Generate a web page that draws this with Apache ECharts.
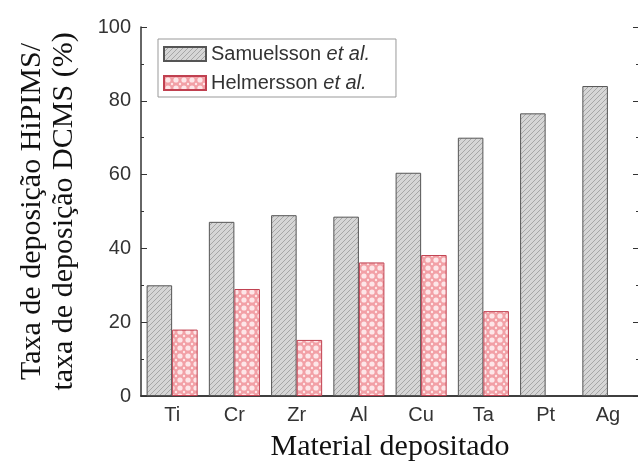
<!DOCTYPE html>
<html>
<head>
<meta charset="utf-8">
<script src="https://cdn.jsdelivr.net/npm/echarts@6/dist/echarts.min.js"></script>
<style>html,body{margin:0;padding:0;background:#fff;}#c{width:638px;height:461px;}</style>
</head>
<body>
<div id="c"></div>
<script>
var categories = ['Ti', 'Cr', 'Zr', 'Al', 'Cu', 'Ta', 'Pt', 'Ag'];
var samuelsson = [30, 47.2, 49, 48.6, 60.5, 70, 76.6, 84];
var helmersson = [18, 29, 15.2, 36.2, 38.2, 23, null, null];
var yTicks = [0, 20, 40, 60, 80, 100];
var seriesNames = ['Samuelsson et al.', 'Helmersson et al.'];

function grayPattern() {
  var c = document.createElement('canvas');
  c.width = 5; c.height = 5;
  var g = c.getContext('2d');
  g.fillStyle = '#d6d6d6';
  g.fillRect(0, 0, 5, 5);
  g.strokeStyle = '#a2a2a2';
  g.lineWidth = 0.9;
  g.beginPath();
  g.moveTo(-1, 6); g.lineTo(6, -1);
  g.moveTo(-1, 1); g.lineTo(1, -1);
  g.moveTo(4, 6); g.lineTo(6, 4);
  g.stroke();
  return c;
}
function redPattern() {
  var c = document.createElement('canvas');
  c.width = 8; c.height = 8;
  var g = c.getContext('2d');
  g.fillStyle = '#f2a0a6';
  g.fillRect(0, 0, 8, 8);
  g.fillStyle = '#fde6e8';
  g.beginPath(); g.arc(4, 4, 2.6, 0, Math.PI * 2); g.fill();
  g.beginPath(); g.arc(0, 0, 1.2, 0, Math.PI * 2); g.fill();
  g.beginPath(); g.arc(8, 0, 1.2, 0, Math.PI * 2); g.fill();
  g.beginPath(); g.arc(0, 8, 1.2, 0, Math.PI * 2); g.fill();
  g.beginPath(); g.arc(8, 8, 1.2, 0, Math.PI * 2); g.fill();
  return c;
}

var chart = echarts.init(document.getElementById('c'), null, {renderer: 'canvas'});
var axisLineStyle = {color: '#333', width: 1.5};
var tickFont = {fontFamily: 'Liberation Sans', fontSize: 20, color: '#333'};
var option = {
  animation: false,
  backgroundColor: '#fff',
  grid: {left: 141, top: 27, width: 498, height: 369, outerBoundsMode: 'none', containLabel: false},
  legend: {
    orient: 'vertical',
    left: 158, top: 39,
    data: seriesNames,
    icon: 'rect',
    itemWidth: 42, itemHeight: 14,
    itemGap: 9,
    padding: [5, 26, 4, 5],
    borderColor: '#999', borderWidth: 1,
    formatter: function (name) {
      var p = name.split(' et al.');
      return '{n|' + p[0] + ' }{i|et al.}';
    },
    textStyle: {
      rich: {
        n: {fontFamily: 'Liberation Sans', fontSize: 20, color: '#333'},
        i: {fontFamily: 'Liberation Sans', fontSize: 20, fontStyle: 'italic', color: '#333'}
      }
    }
  },
  xAxis: [
    {
      type: 'category', data: categories, position: 'bottom',
      name: 'Material depositado', nameLocation: 'middle', nameGap: 36,
      nameTextStyle: {fontFamily: 'Liberation Serif', fontSize: 30, color: '#111'},
      axisLine: {lineStyle: axisLineStyle},
      axisTick: {inside: true, length: 4, lineStyle: {color: '#333'}},
      axisLabel: Object.assign({margin: 9}, tickFont)
    },
    {
      type: 'category', data: categories, position: 'top', gridIndex: 0,
      axisLine: {lineStyle: axisLineStyle},
      axisTick: {inside: true, length: 6, alignWithLabel: true, lineStyle: {color: '#333'}},
      axisLabel: {show: false}
    },
    {
      type: 'category', data: categories, position: 'top', gridIndex: 0,
      axisLine: {show: false},
      axisTick: {inside: true, length: 3, lineStyle: {color: '#333'}},
      axisLabel: {show: false}
    }
  ],
  yAxis: [
    {
      type: 'value', min: 0, max: 100, interval: 20,
      name: 'Taxa de deposição HiPIMS/\ntaxa de deposição DCMS (%)',
      nameLocation: 'middle', nameGap: 61, nameRotate: 90,
      nameTextStyle: {fontFamily: 'Liberation Serif', fontSize: 30, color: '#111', lineHeight: 32},
      axisLine: {show: true, lineStyle: axisLineStyle},
      axisTick: {show: true, inside: true, length: 6, lineStyle: {color: '#333'}},
      minorTick: {show: true, splitNumber: 2, length: 3, lineStyle: {color: '#333'}},
      splitLine: {show: false},
      axisLabel: Object.assign({margin: 10, formatter: function (v) { return yTicks.indexOf(v) >= 0 ? String(v) : ''; }}, tickFont)
    },
    {
      type: 'value', min: 0, max: 100, interval: 20, position: 'right',
      axisLine: {show: true, lineStyle: axisLineStyle},
      axisTick: {show: true, inside: true, length: 6, lineStyle: {color: '#333'}},
      minorTick: {show: true, splitNumber: 2, length: 3, lineStyle: {color: '#333'}},
      splitLine: {show: false},
      axisLabel: {show: false}
    }
  ],
  series: [
    {
      name: seriesNames[0], type: 'bar', data: samuelsson,
      barWidth: '41%', barGap: '0%',
      itemStyle: {color: {image: grayPattern(), repeat: 'repeat'}, borderColor: '#555', borderWidth: 1}
    },
    {
      name: seriesNames[1], type: 'bar', data: helmersson,
      barWidth: '41%', barGap: '0%',
      itemStyle: {color: {image: redPattern(), repeat: 'repeat'}, borderColor: '#c04050', borderWidth: 1}
    }
  ]
};
chart.setOption(option);
</script>
</body>
</html>
